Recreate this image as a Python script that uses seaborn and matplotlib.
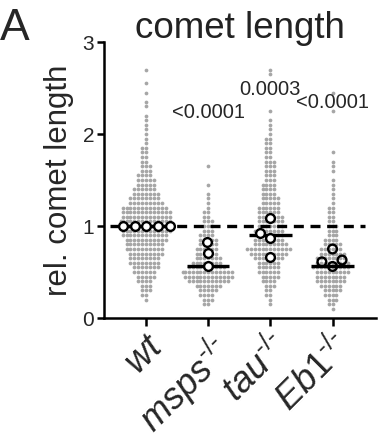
import numpy as np
import pandas as pd
import matplotlib
matplotlib.use("Agg")
import matplotlib.pyplot as plt
import seaborn as sns

# ---------------- data ----------------
groups = ["wt", "msps", "tau", "Eb1"]
tick_labels = ["$wt$", "$msps^{\\rm \u2010/\u2010}$", "$tau^{\\rm \u2010/\u2010}$", "$Eb1^{\\rm \u2010/\u2010}$"]

# individual comets: binned values (0.05 bins) and number of dots per row
wt_vals = [0.20, 0.25, 0.30, 0.35, 0.40, 0.45, 0.50, 0.55, 0.60, 0.65, 0.70, 0.75,
           0.80, 0.85, 0.90, 0.95, 1.00, 1.05, 1.10, 1.15, 1.20, 1.25, 1.30, 1.35,
           1.40, 1.45, 1.50, 1.55, 1.60, 1.65, 1.70, 1.75, 1.80, 1.85, 1.90, 1.95,
           2.00, 2.05, 2.10, 2.15, 2.20, 2.30, 2.35, 2.45, 2.55, 2.70]
wt_counts = [1, 2, 3, 3, 4, 5, 6, 7, 8, 8, 9, 10,
             10, 11, 12, 13, 14, 14, 13, 13, 12, 9, 8, 7,
             6, 5, 5, 4, 3, 3, 2, 2, 2, 2, 1, 1,
             1, 1, 1, 1, 1, 1, 1, 1, 1, 1]

msps_vals = [0.15, 0.20, 0.25, 0.30, 0.35, 0.40, 0.45, 0.50, 0.55, 0.60, 0.65, 0.70,
             0.75, 0.80, 0.85, 0.90, 0.95, 1.00, 1.05, 1.10, 1.15, 1.20, 1.25, 1.30,
             1.35, 1.45, 1.65]
msps_counts = [2, 3, 4, 5, 7, 11, 13, 14, 10, 8, 7, 6,
               6, 5, 5, 4, 3, 3, 3, 2, 2, 1, 1, 1,
               1, 1, 1]

tau_vals = [0.15, 0.20, 0.25, 0.30, 0.35, 0.40, 0.45, 0.50, 0.55, 0.60, 0.65, 0.70,
            0.75, 0.80, 0.85, 0.90, 0.95, 1.00, 1.05, 1.10, 1.15, 1.20, 1.25, 1.30,
            1.35, 1.40, 1.45, 1.50, 1.55, 1.60, 1.65, 1.70, 1.75, 1.80, 1.85, 1.90,
            1.95, 2.00, 2.05, 2.10, 2.15, 2.25, 2.65, 2.70]
tau_counts = [1, 1, 2, 2, 3, 4, 5, 6, 6, 6, 8, 10,
              12, 9, 8, 8, 8, 7, 7, 7, 6, 6, 5, 5,
              4, 4, 4, 3, 3, 3, 3, 3, 2, 2, 2, 2,
              2, 1, 1, 1, 1, 1, 1, 1]

eb1_vals = [0.10, 0.15, 0.20, 0.25, 0.30, 0.35, 0.40, 0.45, 0.50, 0.55, 0.60, 0.65,
            0.70, 0.75, 0.80, 0.85, 0.90, 0.95, 1.00, 1.05, 1.10, 1.15, 1.20, 1.25,
            1.30, 1.35, 1.40, 1.45, 1.50, 1.60, 1.65, 1.70, 1.80, 2.25, 2.45]
eb1_counts = [1, 2, 3, 4, 5, 6, 8, 8, 9, 10, 9, 8,
              7, 6, 5, 4, 3, 3, 3, 2, 2, 2, 2, 1,
              1, 1, 1, 1, 1, 1, 1, 1, 1, 1, 1]

# per-experiment means (open circles)
wt_means = [1.00, 1.00, 1.00, 1.00, 1.00]
msps_means = [0.83, 0.71, 0.56]
tau_means = [1.09, 0.92, 0.87, 0.66]
eb1_means = [0.75, 0.63, 0.61, 0.56]

# median bars
medians = [1.00, 0.56, 0.90, 0.57]

# statistics
pvals = ["", "<0.0001", "0.0003", "<0.0001"]
pval_y = [0, 2.17, 2.42, 2.28]

# ---------------- tables ----------------
vals = {"wt": (wt_vals, wt_counts), "msps": (msps_vals, msps_counts),
        "tau": (tau_vals, tau_counts), "Eb1": (eb1_vals, eb1_counts)}
rows = []
for g in groups:
    v, c = vals[g]
    for val in np.repeat(v, c):
        rows.append((g, float(val)))
cells = pd.DataFrame(rows, columns=["group", "value"])

mrows = []
for g, m in zip(groups, [wt_means, msps_means, tau_means, eb1_means]):
    for val in m:
        mrows.append((g, val))
means = pd.DataFrame(mrows, columns=["group", "value"])
meds = pd.DataFrame({"group": groups, "value": medians})

# ---------------- plot ----------------
sns.set_style("ticks")
plt.rcParams["font.family"] = ["Liberation Sans", "DejaVu Sans"]
plt.rcParams["mathtext.fontset"] = "custom"
plt.rcParams["mathtext.rm"] = "Liberation Sans"
plt.rcParams["mathtext.it"] = "Liberation Sans:italic"

fig = plt.figure(figsize=(3.78, 4.42), dpi=100)
ax = fig.add_axes([104 / 378, 1 - 318 / 442, 272 / 378, 276 / 442])

sns.swarmplot(data=cells, x="group", y="value", order=groups, color="#a6a6a6",
              size=2.7, linewidth=0, ax=ax, zorder=1, warn_thresh=1)

ax.axhline(1.0, xmin=0.023, xmax=0.96, color="black", lw=2.4,
           dashes=(3.0, 2.0), zorder=2)

sns.boxplot(data=meds, x="group", y="value", order=groups, width=0.68,
            showbox=False, showcaps=False, showfliers=False, whis=0,
            whiskerprops={"visible": False},
            medianprops={"color": "black", "linewidth": 2.4},
            ax=ax, zorder=3)

sns.swarmplot(data=means, x="group", y="value", order=groups, color="white",
              size=6.3, linewidth=1.7, edgecolor="black", ax=ax, zorder=4)
ax.collections[-1].set_facecolor("none")

for i, (t, y) in enumerate(zip(pvals, pval_y)):
    if t:
        ax.text(i, y, t, ha="center", va="baseline", fontsize=14.5)

ax.set_xlim(-0.68, 3.7)
ax.set_ylim(0, 3)
ax.set_yticks([0, 1, 2, 3])
ax.set_xticks(range(len(groups)))
ax.set_xticklabels(tick_labels, rotation=45, ha="right", va="top",
                   rotation_mode="anchor", fontsize=26)
ax.tick_params(axis="y", labelsize=15, width=1.8, length=5, pad=2, color="black")
ax.tick_params(axis="x", width=1.8, length=6, pad=2, color="black")
ax.set_xlabel("")
ax.set_ylabel("rel. comet length", fontsize=22.5, labelpad=6)
for s in ["left", "bottom"]:
    ax.spines[s].set_linewidth(1.8)
    ax.spines[s].set_color("black")
sns.despine(ax=ax)

fig.text(240 / 378, 1 - 38 / 442, "comet length", ha="center", va="baseline",
         fontsize=26.5, color="#222222")
fig.text(0.0, 1 - 40 / 442, "A", ha="left", va="baseline", fontsize=32)

fig.savefig("out.png", dpi=100)
